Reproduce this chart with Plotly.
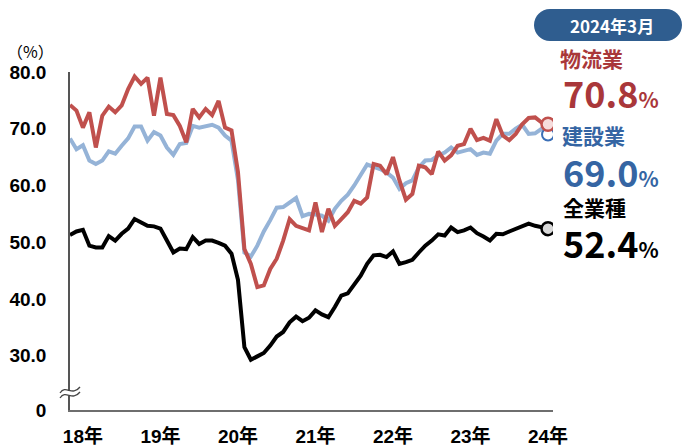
import plotly.graph_objects as go
import pandas as pd

# ---- data (monthly, Jan 2018 - Mar 2024) ----
months = pd.date_range("2018-01-01", "2024-03-01", freq="MS").strftime("%Y-%m").tolist()

logistics = [74.2, 73.2, 70.2, 72.9, 66.7, 72.3, 73.9, 72.9, 74.1, 77.0, 79.2, 77.9,
             79.0, 72.3, 79.0, 72.6, 72.4, 70.5, 67.6, 73.5, 72.0, 73.5, 72.4, 74.9,
             70.2, 69.7, 62.4, 48.8, 46.2, 42.1, 42.4, 45.3, 47.1, 50.3, 54.1, 52.9,
             52.5, 52.1, 57.0, 51.8, 55.9, 52.9, 54.1, 55.3, 57.3, 56.8, 57.9, 63.8,
             63.5, 62.0, 65.0, 60.9, 57.5, 58.5, 63.5, 63.2, 62.0, 66.0, 64.4, 65.3,
             67.0, 67.3, 70.0, 68.0, 68.4, 67.9, 71.7, 68.8, 68.0, 69.1, 70.8, 71.9,
             72.0, 71.1, 70.8]

construction = [68.3, 66.4, 67.1, 64.4, 63.8, 64.4, 66.0, 65.6, 67.0, 68.3, 70.4, 70.4,
                67.9, 69.4, 68.8, 66.7, 65.4, 67.3, 67.5, 70.5, 70.2, 70.4, 70.7, 70.2,
                68.8, 67.9, 61.0, 48.2, 47.5, 49.4, 51.9, 53.9, 56.1, 56.2, 56.9, 57.8,
                54.6, 55.0, 54.9, 54.7, 53.8, 55.9, 57.3, 58.4, 60.0, 61.7, 63.7, 63.3,
                62.9, 62.3, 61.4, 59.4, 60.4, 60.9, 63.2, 64.4, 64.5, 65.3, 65.8, 66.7,
                65.8, 66.1, 66.4, 65.4, 65.8, 65.6, 67.9, 69.1, 69.1, 70.0, 70.7, 69.1,
                69.2, 70.0, 69.0]

all_industries = [51.3, 51.9, 52.2, 49.4, 49.1, 49.1, 51.1, 50.3, 51.5, 52.4, 54.1, 53.4,
                  52.9, 52.8, 52.4, 50.3, 48.2, 48.9, 48.8, 50.9, 49.7, 50.3, 50.3, 49.9,
                  49.4, 48.0, 43.4, 31.5, 29.3, 29.9, 30.5, 31.8, 33.4, 34.2, 35.9, 36.9,
                  36.1, 36.7, 38.0, 37.3, 36.8, 38.6, 40.6, 41.0, 42.7, 44.1, 46.2, 47.7,
                  47.8, 47.4, 48.4, 46.2, 46.5, 46.9, 48.2, 49.4, 50.3, 51.4, 51.2, 52.6,
                  51.8, 52.1, 52.6, 51.6, 51.0, 50.3, 51.5, 51.4, 51.9, 52.4, 52.8, 53.3,
                  52.9, 52.6, 52.4]

x_tick_pos = [2, 14, 26, 38, 50, 62, 74]
x_tick_text = ["18年", "19年", "20年", "21年", "22年", "23年", "24年"]
y_tick_vals = [20.45, 30, 40, 50, 60, 70, 80]
y_tick_text = ["0", "30.0", "40.0", "50.0", "60.0", "70.0", "80.0"]

RED = "#c0504d"
BLUE = "#95b3d7"
RED_TXT = "#a9373a"
BLUE_TXT = "#3565a3"
PILL = "#2f5d8f"

W, H = 682, 446
L, R, T, B = 70, 129, 72, 36
PW, PH = W - L - R, H - T - B

def px(x):
    return (x - L) / PW

def py(y):
    return (H - B - y) / PH

def path(cmds):
    out = []
    for c in cmds:
        if isinstance(c, str):
            out.append(c)
        else:
            out.append(f"{px(c[0]):.5f},{py(c[1]):.5f}")
    return " ".join(out)

xi = list(range(len(months)))

fig = go.Figure()
fig.add_trace(go.Scatter(x=xi, y=construction, mode="lines", line=dict(color=BLUE, width=4),
                         name="建設業", text=months))
fig.add_trace(go.Scatter(x=xi, y=logistics, mode="lines", line=dict(color=RED, width=4),
                         name="物流業", text=months))
fig.add_trace(go.Scatter(x=xi, y=all_industries, mode="lines", line=dict(color="black", width=4),
                         name="全業種", text=months))
# end markers
fig.add_trace(go.Scatter(x=[xi[-1]], y=[construction[-1]], mode="markers",
                         marker=dict(size=12, color="white", line=dict(color="#3b6fb6", width=2))))
fig.add_trace(go.Scatter(x=[xi[-1]], y=[logistics[-1]], mode="markers",
                         marker=dict(size=13, color="#f6dcdc", line=dict(color=RED, width=2.5))))
fig.add_trace(go.Scatter(x=[xi[-1]], y=[all_industries[-1]], mode="markers",
                         marker=dict(size=13, color="#d9d9d9", line=dict(color="black", width=2.5))))

num_font = "Liberation Sans, Noto Sans CJK JP, sans-serif"
jp_font = "Noto Sans CJK JP, sans-serif"

fig.update_layout(
    width=W, height=H, autosize=False,
    margin=dict(l=L, r=R, t=T, b=B),
    paper_bgcolor="white", plot_bgcolor="white",
    showlegend=False,
    xaxis=dict(range=[0, 74.77], tickvals=x_tick_pos, ticktext=x_tick_text, automargin=False,
               showgrid=False, zeroline=False, showline=True, linecolor="#6e6e6e", linewidth=1.5,
               ticks="", ticklabelstandoff=8,
               tickfont=dict(family=num_font, size=19, color="black", weight="bold")),
    yaxis=dict(range=[20.45, 80], tickvals=y_tick_vals, ticktext=y_tick_text, automargin=False,
               showgrid=False, zeroline=False, showline=True, linecolor="#555555", linewidth=1.5,
               ticks="", ticklabelstandoff=18,
               tickfont=dict(family=num_font, size=19, color="black", weight="bold")),
)

shapes = []
# axis break symbol
shapes.append(dict(type="rect", xref="paper", yref="paper",
                   x0=px(63), x1=px(77), y0=py(396), y1=py(391),
                   fillcolor="white", line=dict(width=0), layer="above"))
for dy in (0, 5):
    shapes.append(dict(type="path", xref="paper", yref="paper", layer="above",
                       path=path(["M", (60, 393 + dy), "C", (66, 384 + dy), (72, 397 + dy), (80, 387 + dy)]),
                       line=dict(color="#444444", width=1.3)))
# pill behind the date
r = 16
k = 0.5523 * r
x0, x1, yc = 534, 682, 25
shapes.append(dict(type="path", xref="paper", yref="paper", layer="above",
                   path=path(["M", (x0 + r, yc - r), "L", (x1 - r, yc - r),
                              "C", (x1 - r + k, yc - r), (x1, yc - k), (x1, yc),
                              "C", (x1, yc + k), (x1 - r + k, yc + r), (x1 - r, yc + r),
                              "L", (x0 + r, yc + r),
                              "C", (x0 + r - k, yc + r), (x0, yc + k), (x0, yc),
                              "C", (x0, yc - k), (x0 + r - k, yc - r), (x0 + r, yc - r), "Z"]),
                   fillcolor=PILL, line=dict(width=0)))
fig.update_layout(shapes=shapes)

def ann(text, x, y, size, color, xanchor="left", family=jp_font, weight="bold"):
    fig.add_annotation(text=text, x=px(x), y=py(y), xref="paper", yref="paper",
                       xanchor=xanchor, yanchor="middle", showarrow=False,
                       font=dict(family=family, size=size, color=color, weight=weight))

ann("（%）", 30, 51, 16, "black", xanchor="center", weight="normal")
ann("2024年3月", 612, 25, 17, "white", xanchor="center")
ann("物流業", 558, 58, 21, RED_TXT)
ann(f"{logistics[-1]:.1f}<span style='font-size:21px'>%</span>", 561, 92, 36, RED_TXT)
ann("建設業", 560, 135, 21, BLUE_TXT)
ann(f"{construction[-1]:.1f}<span style='font-size:21px'>%</span>", 561, 171, 36, BLUE_TXT)
ann("全業種", 561, 207, 21, "black")
ann(f"{all_industries[-1]:.1f}<span style='font-size:21px'>%</span>", 561, 242, 36, "black")

fig.write_html("out.html", config={"displayModeBar": False},
               post_script="document.body.style.margin='0';document.body.style.overflow='hidden';")
